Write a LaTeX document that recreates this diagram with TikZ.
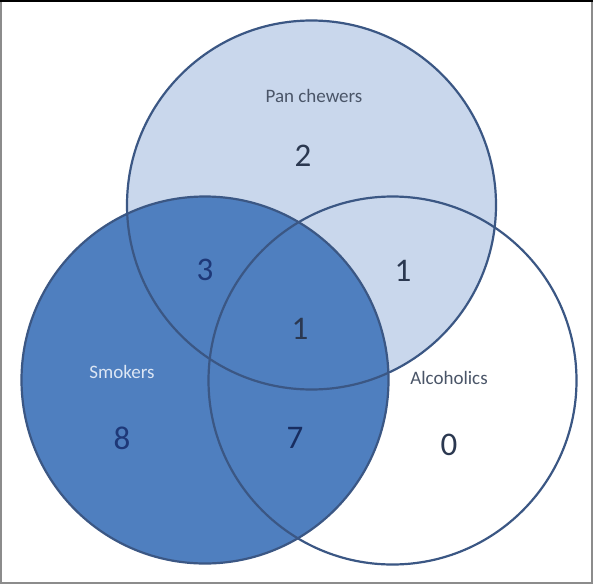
\documentclass[tikz,border=0pt]{standalone}
\usepackage{fontspec}
\setmainfont{Carlito}
\definecolor{panfill}{HTML}{C9D7EC}
\definecolor{smokefill}{HTML}{4F7FBF}
\definecolor{ringblue}{HTML}{3B5784}
\definecolor{inkdark}{HTML}{2B3850}
\definecolor{inknavy}{HTML}{1E3878}
\definecolor{labelgray}{HTML}{4A5568}
\definecolor{labellight}{HTML}{DCE6F4}
\definecolor{framegray}{HTML}{8C8C8C}

\begin{document}
\begin{tikzpicture}[x=1pt,y=-1pt]

    \tikzset{
      ring/.style={
        line width=2.2pt,
        draw=ringblue,
      },
      count/.style={
        inner sep=0pt,
        font=\fontsize{33}{33}\selectfont,
        color=inkdark,
      },
      setname/.style={
        inner sep=0pt,
        font=\fontsize{19}{19}\selectfont,
        color=labelgray,
      },
    }
    \useasboundingbox (0,0) rectangle (596,586);
    \fill[white] (0,0) rectangle (596,586);
    	\draw[color={framegray},line width=2pt] (1,1) rectangle (592,583);
	\draw[color={black},line width=2pt] (0,1)--(593,1);
	% the three sets
	\fill[color={panfill}] (311.5,205) circle (184.5);
	\fill[color={smokefill}] (205,380) circle (183.5);
	\draw[ring] (311.5,205) circle (184.5);
	\draw[ring] (205,380) circle (183.5);
	\draw[ring] (392.5,380.5) circle (184);
	% names
	\node[setname] (pan) at (314,96) {Pan chewers};
	\node[setname,color={labellight}] (smokers) at (122,372) {Smokers};
	\node[setname] (alcohol) at (449,378) {Alcoholics};
	% counts
	\node[count] (panonly) at (303,156) {2};
	\node[count,color={inknavy}] (pansmoke) at (205,270) {3};
	\node[count] (panalcohol) at (403,271) {1};
	\node[count] (allthree) at (300,329) {1};
	\node[count,color={inknavy}] (smokeonly) at (122,438) {8};
	\node[count,color={inknavy!80!black}] (smokealcohol) at (295,438) {7};
	\node[count] (alcoholonly) at (449,445) {0};

\end{tikzpicture}
\end{document}
